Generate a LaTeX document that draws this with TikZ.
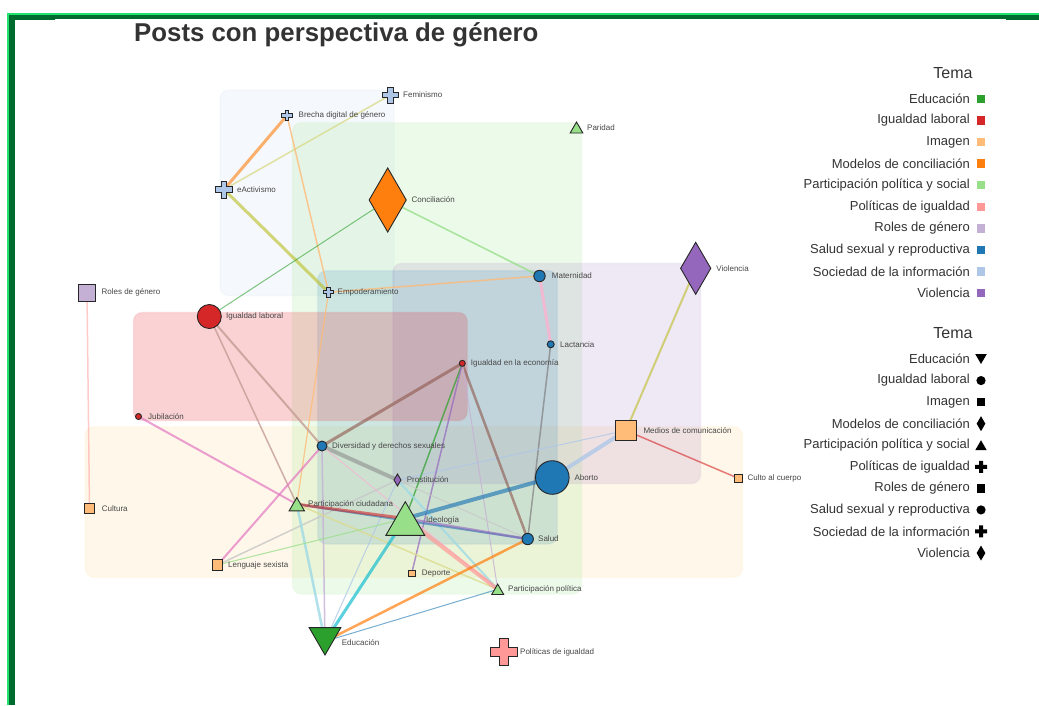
\documentclass[tikz,border=0pt]{standalone}
\usepackage{fontspec}
\setmainfont{Liberation Sans}
\definecolor{cBlue}{HTML}{1F77B4}
\definecolor{cLblue}{HTML}{AEC7E8}
\definecolor{cOrange}{HTML}{FF7F0E}
\definecolor{cLorange}{HTML}{FFBB78}
\definecolor{cGreen}{HTML}{2CA02C}
\definecolor{cLgreen}{HTML}{98DF8A}
\definecolor{cRed}{HTML}{D62728}
\definecolor{cLred}{HTML}{FF9896}
\definecolor{cPurple}{HTML}{9467BD}
\definecolor{cLpurple}{HTML}{C5B0D5}
\definecolor{cBrown}{HTML}{8C564B}
\definecolor{cLbrown}{HTML}{C49C94}
\definecolor{cPink}{HTML}{E377C2}
\definecolor{cLpink}{HTML}{F7B6D2}
\definecolor{cGrey}{HTML}{7F7F7F}
\definecolor{cLgrey}{HTML}{C7C7C7}
\definecolor{cOlive}{HTML}{BCBD22}
\definecolor{cLolive}{HTML}{DBDB8D}
\definecolor{cCyan}{HTML}{17BECF}
\definecolor{cLcyan}{HTML}{9EDAE5}
\definecolor{hullOrange}{HTML}{FFCF70}
\definecolor{hullRed}{HTML}{E8202A}
\definecolor{hullGreen}{HTML}{8CE67A}
\definecolor{frameLight}{HTML}{22E36F}
\definecolor{frameDark}{HTML}{006B2E}
\definecolor{txt}{HTML}{333333}
\tikzset{
  hull/.style 2 args={rounded corners=9pt, fill=#1, fill opacity=#2, draw=#1, draw opacity=0.06, line width=1.5pt},
  lk/.style n args={3}{draw=#1, line width=#2pt, draw opacity=#3},
  shp/.style={draw=black!85, line width=0.9pt},
  lbl/.style={anchor=west, inner sep=0pt, text=black!72, font=\fontsize{8}{9}\selectfont},
  lg/.style={anchor=east, inner sep=0pt, text=txt, font=\fontsize{13}{15}\selectfont},
  lgh/.style={inner sep=0pt, text=txt, font=\fontsize{16}{18}\selectfont},
  pics/plus/.style 2 args={code={\filldraw[shp,fill=#2] ({-#1/3},{-#1}) -- ({#1/3},{-#1}) -- ({#1/3},{-#1/3}) -- ({#1},{-#1/3}) -- ({#1},{#1/3}) -- ({#1/3},{#1/3}) -- ({#1/3},{#1}) -- ({-#1/3},{#1}) -- ({-#1/3},{#1/3}) -- ({-#1},{#1/3}) -- ({-#1},{-#1/3}) -- ({-#1/3},{-#1/3}) -- cycle;}},
  pics/triup/.style 2 args={code={\filldraw[shp,fill=#2] (0,{-#1}) -- ({1.155*#1},{#1}) -- ({-1.155*#1},{#1}) -- cycle;}},
  pics/tridn/.style 2 args={code={\filldraw[shp,fill=#2] (0,{#1}) -- ({1.155*#1},{-#1}) -- ({-1.155*#1},{-#1}) -- cycle;}},
  pics/dia/.style 2 args={code={\filldraw[shp,fill=#2] (0,{-#1}) -- ({0.58*#1},0) -- (0,{#1}) -- ({-0.58*#1},0) -- cycle;}},
  pics/sq/.style 2 args={code={\filldraw[shp,fill=#2] ({-#1},{-#1}) rectangle ({#1},{#1});}},
  pics/dot/.style 2 args={code={\filldraw[shp,fill=#2] (0,0) circle[radius=#1];}},
}
\begin{document}
\begin{tikzpicture}[x=1pt,y=-1pt]
\useasboundingbox (0,0) rectangle (1039,705);
\fill[white] (0,0) rectangle (1039,705);
% frame
\fill[frameLight] (7,13) rectangle (1039,15);
\fill[frameLight] (7,13) rectangle (9,705);
\fill[frameDark] (9,15) rectangle (1039,19);
\fill[frameDark] (9,15) rectangle (15,705);
\fill[frameDark] (9,15) rectangle (55,20);
\fill[frameDark] (1006,15) rectangle (1039,20);

% title
\node[inner sep=0pt, anchor=west, text=txt, font=\bfseries\fontsize{25.8}{28}\selectfont] (title) at (134,35) {Posts con perspectiva de género};

% hulls
\draw[hull={hullOrange}{0.15}] (85,426.5) rectangle (742.7,577.3);
\draw[hull={cLblue}{0.12}] (220,90) rectangle (394,295.7);
\draw[hull={hullGreen}{0.16}] (292.3,122.5) rectangle (581.7,594);
\draw[hull={cPurple}{0.15}] (392.8,263.3) rectangle (700.7,483.5);
\draw[hull={cBlue}{0.15}] (317.5,270.7) rectangle (557.3,544);
\draw[hull={hullRed}{0.2}] (133.3,312.3) rectangle (467.3,420.7);

% node positions
\coordinate (fem) at (390.4,95);
\coordinate (brecha) at (287,115.5);
\coordinate (parid) at (576.5,127.5);
\coordinate (eact) at (224,189.5);
\coordinate (conc) at (387.7,200);
\coordinate (viol) at (695.7,268.3);
\coordinate (roles) at (87,292.5);
\coordinate (empod) at (328.5,292.3);
\coordinate (mat) at (539.5,276);
\coordinate (iglab) at (209.3,316.5);
\coordinate (lact) at (550.7,344.3);
\coordinate (igeco) at (462.3,363.3);
\coordinate (jubil) at (138.5,416.5);
\coordinate (divers) at (322,446);
\coordinate (medios) at (626,430.5);
\coordinate (prost) at (397.5,480);
\coordinate (aborto) at (552.3,477.5);
\coordinate (culto) at (738.3,478.3);
\coordinate (cultura) at (89.5,508.3);
\coordinate (pciud) at (296.8,504.2);
\coordinate (ideol) at (405.3,518.5);
\coordinate (salud) at (527.7,539);
\coordinate (lengua) at (217.5,565);
\coordinate (deporte) at (411.7,573.3);
\coordinate (ppol) at (497.7,589.3);
\coordinate (educ) at (325,641.3);
\coordinate (polig) at (504,652.3);

% links
\draw[lk={cOrange}{3}{0.6}] (eact) -- (brecha);
\draw[lk={cLolive}{1.5}{0.8}] (eact) -- (fem);
\draw[lk={cOlive}{3}{0.6}] (eact) -- (empod);
\draw[lk={cLorange}{1.5}{0.8}] (brecha) -- (empod);
\draw[lk={cLorange}{1.2}{0.8}] (empod) -- (pciud);
\draw[lk={cGreen}{1}{0.6}] (conc) -- (iglab);
\draw[lk={cLgreen}{1.6}{0.8}] (conc) -- (mat);
\draw[lk={cLorange}{1.5}{0.8}] (empod) -- (mat);
\draw[lk={cLpink}{3}{0.9}] (mat) -- (lact);
\draw[lk={cGrey}{1.5}{0.7}] (lact) -- (salud);
\draw[lk={cOlive}{2}{0.6}] (viol) -- (medios);
\draw[lk={cRed}{1.5}{0.6}] (medios) -- (culto);
\draw[lk={cLblue}{4}{0.8}] (medios) -- (aborto);
\draw[lk={cLblue}{1}{0.8}] (medios) -- (prost);
\draw[lk={cLbrown}{2}{0.8}] (iglab) -- (divers);
\draw[lk={cLbrown}{1.5}{0.8}] (iglab) -- (pciud);
\draw[lk={cBrown}{3}{0.6}] (igeco) -- (divers);
\draw[lk={cBrown}{2.5}{0.6}] (igeco) -- (salud);
\draw[lk={cGreen}{1.5}{0.7}] (igeco) -- (ideol);
\draw[lk={cPurple}{1.5}{0.7}] (igeco) -- (deporte);
\draw[lk={cLpurple}{1}{0.8}] (igeco) -- (ppol);
\draw[lk={cPink}{2}{0.7}] (jubil) -- (pciud);
\draw[lk={cPink}{2}{0.7}] (divers) -- (lengua);
\draw[lk={cGrey}{4}{0.5}] (divers) -- (prost);
\draw[lk={cLpurple}{1.5}{0.8}] (divers) -- (educ);
\draw[lk={cLpink}{1}{0.8}] (divers) -- (ppol);
\draw[lk={cLgrey}{1.5}{0.8}] (prost) -- (lengua);
\draw[lk={cLblue}{1}{0.8}] (prost) -- (educ);
\draw[lk={cLcyan}{2}{0.8}] (prost) -- (ppol);
\draw[lk={cLgrey}{1}{0.8}] (prost) -- (salud);
\draw[lk={cBlue}{2}{0.6}] (pciud) -- (salud);
\draw[lk={cRed}{3}{0.6}] (pciud) -- (ideol);
\draw[lk={cLcyan}{2.5}{0.8}] (pciud) -- (educ);
\draw[lk={cLolive}{1.5}{0.8}] (pciud) -- (ppol);
\draw[lk={cBlue}{4}{0.65}] (ideol) -- (aborto);
\draw[lk={cPurple}{2.5}{0.6}] (ideol) -- (salud);
\draw[lk={cCyan}{3}{0.7}] (ideol) -- (educ);
\draw[lk={cLred}{4}{0.7}] (ideol) -- (ppol);
\draw[lk={cLgreen}{1}{0.8}] (ideol) -- (lengua);
\draw[lk={cOrange}{2.5}{0.7}] (salud) -- (educ);
\draw[lk={cBlue}{1}{0.6}] (ppol) -- (educ);
\draw[lk={cLred}{1.5}{0.5}] (roles) -- (cultura);

% symbols
\pic at (fem) {plus={8}{cLblue}};
\pic at (brecha) {plus={5.3}{cLblue}};
\pic at (parid) {triup={5.5}{cLgreen}};
\pic at (eact) {plus={8.5}{cLblue}};
\pic at (conc) {dia={32}{cOrange}};
\pic at (viol) {dia={26}{cPurple}};
\pic at (roles) {sq={8.5}{cLpurple}};
\pic at (empod) {plus={4.8}{cLblue}};
\pic at (mat) {dot={5.7}{cBlue}};
\pic at (iglab) {dot={12}{cRed}};
\pic at (lact) {dot={3.5}{cBlue}};
\pic at (igeco) {dot={3}{cRed}};
\pic at (jubil) {dot={3}{cRed}};
\pic at (divers) {dot={5}{cBlue}};
\pic at (medios) {sq={10.3}{cLorange}};
\pic at (prost) {dia={6}{cPurple}};
\pic at (aborto) {dot={16.8}{cBlue}};
\pic at (culto) {sq={3.7}{cLorange}};
\pic at (cultura) {sq={5.3}{cLorange}};
\pic at (pciud) {triup={6.6}{cLgreen}};
\pic at (ideol) {triup={16.8}{cLgreen}};
\pic at (salud) {dot={5.7}{cBlue}};
\pic at (lengua) {sq={5.2}{cLorange}};
\pic at (deporte) {sq={3.3}{cLorange}};
\pic at (ppol) {triup={5.2}{cLgreen}};
\pic at (educ) {tridn={13.7}{cGreen}};
\pic at (polig) {plus={13.5}{cLred}};

% labels
\node[lbl, xshift=12.6] (fem-t) at (fem) {Feminismo};
\node[lbl, xshift=11.5] (brecha-t) at (brecha) {Brecha digital de género};
\node[lbl, xshift=10.5] (parid-t) at (parid) {Paridad};
\node[lbl, xshift=13] (eact-t) at (eact) {eActivismo};
\node[lbl, xshift=23.7] (conc-t) at (conc) {Conciliación};
\node[lbl, xshift=20.5] (viol-t) at (viol) {Violencia};
\node[lbl, xshift=14.4] (roles-t) at (roles) {Roles de género};
\node[lbl, xshift=9] (empod-t) at (empod) {Empoderamiento};
\node[lbl, xshift=12.2] (mat-t) at (mat) {Maternidad};
\node[lbl, xshift=16.7] (iglab-t) at (iglab) {Igualdad laboral};
\node[lbl, xshift=9.3] (lact-t) at (lact) {Lactancia};
\node[lbl, xshift=8.4] (igeco-t) at (igeco) {Igualdad en la economía};
\node[lbl, xshift=9.5] (jubil-t) at (jubil) {Jubilación};
\node[lbl, xshift=10] (divers-t) at (divers) {Diversidad y derechos sexuales};
\node[lbl, xshift=17.3] (medios-t) at (medios) {Medios de comunicación};
\node[lbl, xshift=9.2] (prost-t) at (prost) {Prostitución};
\node[lbl, xshift=22] (aborto-t) at (aborto) {Aborto};
\node[lbl, xshift=9] (culto-t) at (culto) {Culto al cuerpo};
\node[lbl, xshift=12.2] (cultura-t) at (cultura) {Cultura};
\node[lbl, xshift=11.2] (pciud-t) at (pciud) {Participación ciudadana};
\node[lbl, xshift=20.7, yshift=-1.5] (ideol-t) at (ideol) {Ideología};
\node[lbl, xshift=10.3] (salud-t) at (salud) {Salud};
\node[lbl, xshift=10.5] (lengua-t) at (lengua) {Lenguaje sexista};
\node[lbl, xshift=10] (deporte-t) at (deporte) {Deporte};
\node[lbl, xshift=10.3] (ppol-t) at (ppol) {Participación política};
\node[lbl, xshift=16.7, yshift=-1] (educ-t) at (educ) {Educación};
\node[lbl, xshift=16] (polig-t) at (polig) {Políticas de igualdad};

% legend 1 (colour)
\node[lgh] (lh1) at (953,73) {Tema};
\foreach \t/\c [count=\i from 0] in {Educación/cGreen, Igualdad laboral/cRed, Imagen/cLorange, Modelos de conciliación/cOrange, Participación política y social/cLgreen, Políticas de igualdad/cLred, Roles de género/cLpurple, Salud sexual y reproductiva/cBlue, Sociedad de la información/cLblue, Violencia/cPurple}{
  \node[lg] (la\i) at (970,{99+21.56*\i}) {\t};
  \fill[\c] (976.8,{99+21.56*\i-4.2}) rectangle (985.2,{99+21.56*\i+4.2});
}
% legend 2 (shape)
\node[lgh] (lh2) at (953,333) {Tema};
\foreach \t [count=\i from 0] in {Educación, Igualdad laboral, Imagen, Modelos de conciliación, Participación política y social, Políticas de igualdad, Roles de género, Salud sexual y reproductiva, Sociedad de la información, Violencia}{
  \node[lg] (lb\i) at (970,{359+21.56*\i}) {\t};
  \coordinate (ls\i) at (981,{359+21.56*\i});
}
\tikzset{shp/.style={draw=none}}
\pic at (ls0) {tridn={5}{black}};
\pic at (ls1) {dot={4.6}{black}};
\pic at (ls2) {sq={4.3}{black}};
\pic at (ls3) {dia={7.5}{black}};
\pic at (ls4) {triup={5}{black}};
\pic at (ls5) {plus={6}{black}};
\pic at (ls6) {sq={4.3}{black}};
\pic at (ls7) {dot={4.6}{black}};
\pic at (ls8) {plus={6}{black}};
\pic at (ls9) {dia={7.5}{black}};
\end{tikzpicture}
\end{document}
